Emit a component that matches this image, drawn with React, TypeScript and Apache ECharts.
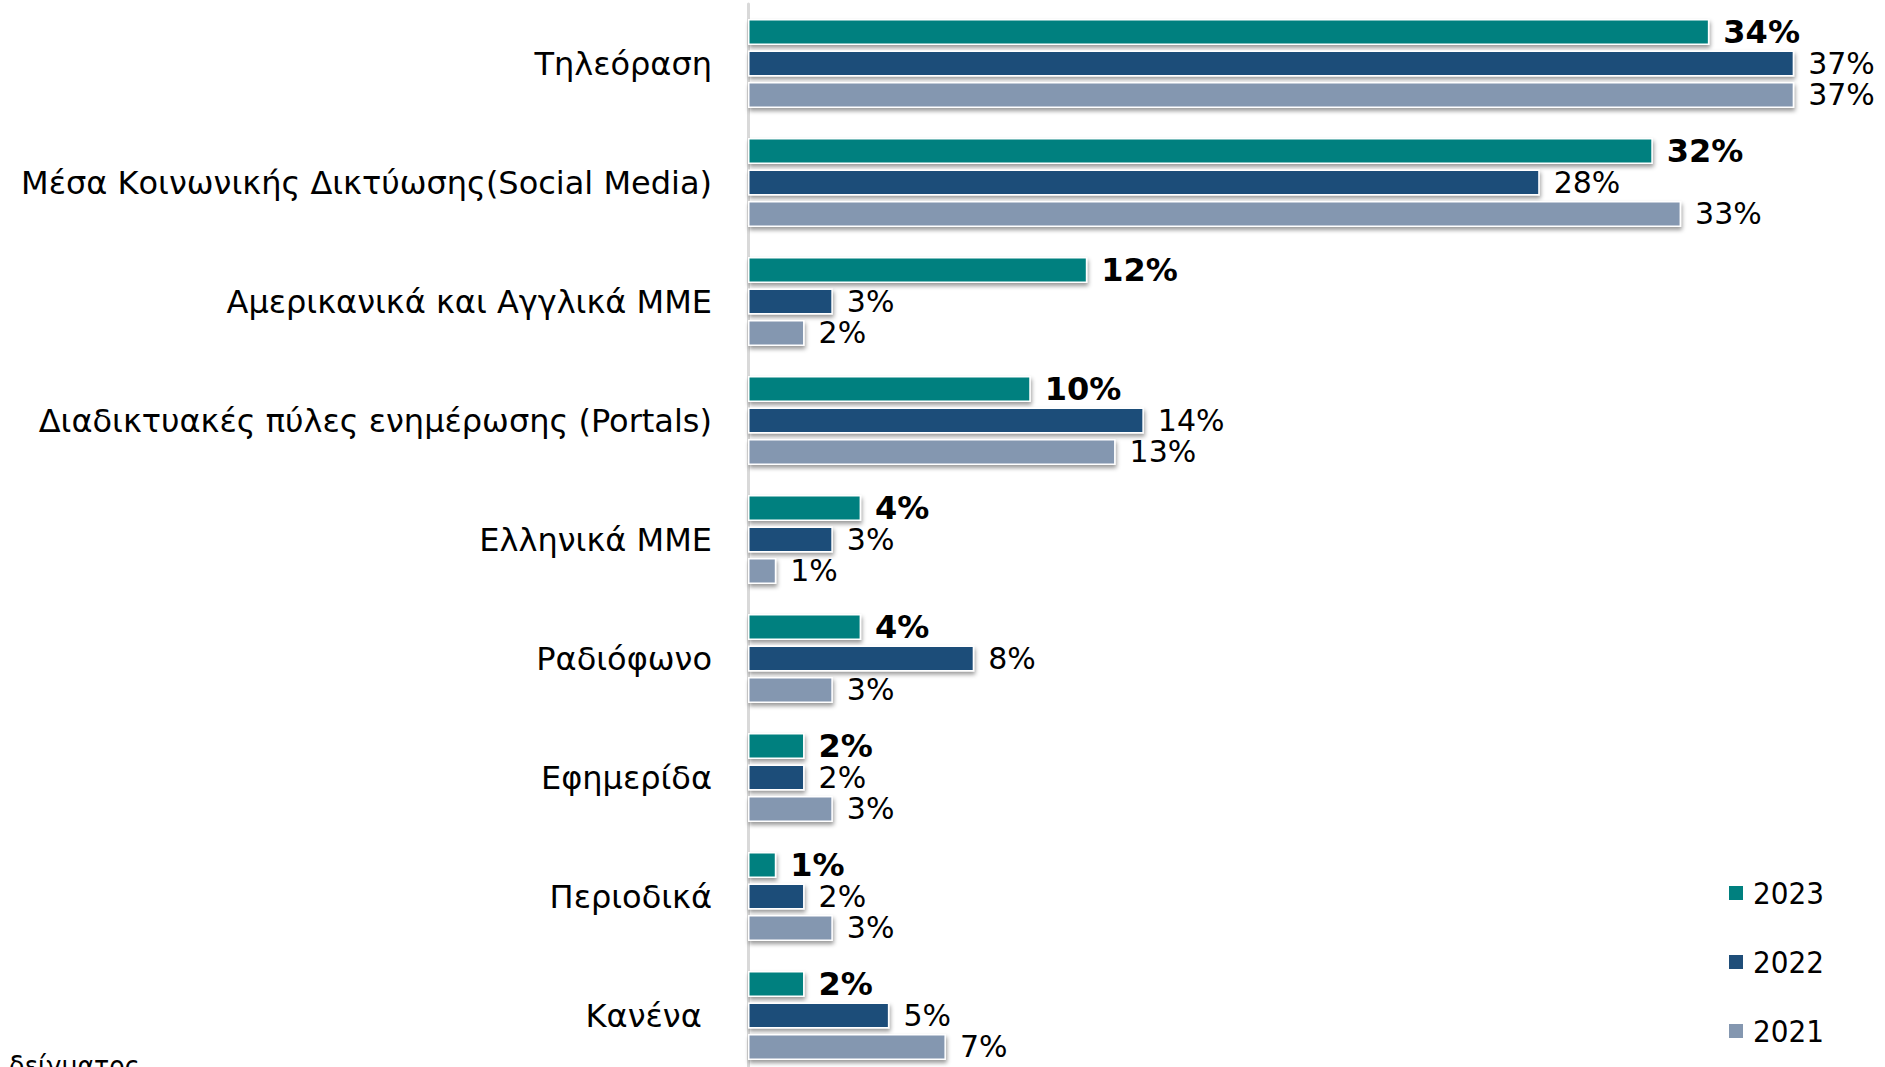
import React, { useEffect, useRef } from "react";
import * as echarts from "echarts";

const categories = [
  "Τηλεόραση",
  "Μέσα Κοινωνικής Δικτύωσης(Social Media)",
  "Αμερικανικά και Αγγλικά ΜΜΕ",
  "Διαδικτυακές πύλες ενημέρωσης (Portals)",
  "Ελληνικά ΜΜΕ",
  "Ραδιόφωνο",
  "Εφημερίδα",
  "Περιοδικά",
  "Κανένα\u00a0",
];
const values2023 = [34, 32, 12, 10, 4, 4, 2, 1, 2];
const values2022 = [37, 28, 3, 14, 3, 8, 2, 2, 5];
const values2021 = [37, 33, 2, 13, 1, 3, 3, 3, 7];
const seriesNames = ["2023", "2022", "2021"];
const footnote = "δείγματος";

const FONT = "'DejaVu Sans', sans-serif";
const FONT_C = "'DejaVu Sans Condensed', 'DejaVu Sans', sans-serif";
const colors = ["#00807F", "#1F4E79", "#8497B0"];

export default function App() {
  const ref = useRef<HTMLDivElement>(null);
  useEffect(() => {
    if (!ref.current) return;
    const chart = echarts.init(ref.current, null, { renderer: "svg" });
    const data = [values2023, values2022, values2021];
    const series = seriesNames.map((name, i) => ({
      name,
      type: "bar",
      data: data[i],
      barWidth: 26,
      barGap: "21%",
      itemStyle: {
        color: colors[i],
        borderColor: "#ffffff",
        borderWidth: 1.5,
        shadowColor: "rgba(0,0,0,0.4)",
        shadowBlur: 4,
        shadowOffsetX: 1,
        shadowOffsetY: 3,
      },
      label: {
        show: true,
        position: "right",
        distance: 14,
        formatter: "{c}%",
        color: "#000",
        fontFamily: FONT,
        fontSize: i === 0 ? 32 : 30,
        fontWeight: i === 0 ? "bold" : "normal",
      },
    }));
    chart.setOption({
      animation: false,
      backgroundColor: "#ffffff",
      grid: { left: 748, top: 4, width: 1131, height: 1071, containLabel: false },
      xAxis: {
        type: "value",
        min: 0,
        max: 40,
        show: false,
      },
      yAxis: {
        type: "category",
        inverse: true,
        data: categories,
        axisLine: { show: true, lineStyle: { color: "#d9d9d9", width: 3 } },
        axisTick: { show: false },
        axisLabel: {
          margin: 36,
          color: "#000",
          fontFamily: FONT,
          fontSize: 32,
        },
      },
      legend: {
        orient: "vertical",
        left: 1727,
        top: 877,
        padding: 0,
        itemWidth: 16,
        itemHeight: 16,
        itemGap: 37,
        icon: "rect",
        data: seriesNames,
        textStyle: {
          fontFamily: FONT_C,
          fontSize: 31,
          color: "#000",
          lineHeight: 32,
          padding: [0, 0, 0, 4],
        },
      },
      graphic: [
        {
          type: "text",
          left: 9,
          top: 1052,
          style: { text: footnote, fontFamily: FONT_C, fontSize: 28, fill: "#000" },
        },
      ],
      series,
    });
    return () => chart.dispose();
  }, []);
  return (
    <div
      style={{
        position: "fixed",
        left: 0,
        top: 0,
        width: 1885,
        height: 1067,
        overflow: "hidden",
        background: "#fff",
      }}
    >
      <div ref={ref} style={{ width: 1885, height: 1090 }} />
    </div>
  );
}
